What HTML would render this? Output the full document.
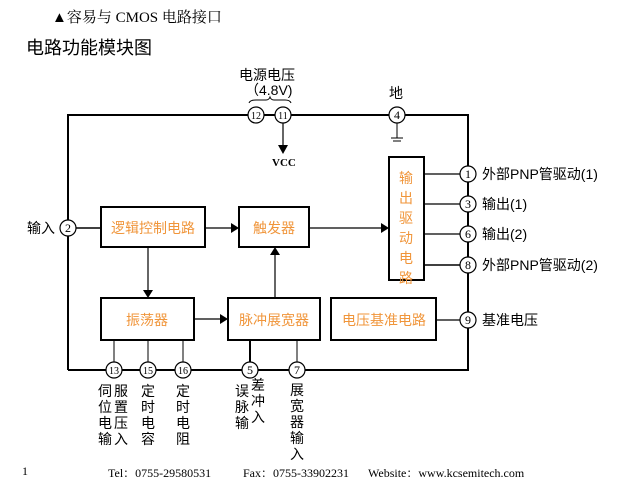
<!DOCTYPE html>
<html><head><meta charset="utf-8"><style>
body{margin:0;background:#fff;}
svg{display:block;font-family:"Liberation Serif","Noto Serif CJK SC",serif;}
.s{font-family:"Liberation Sans","Noto Sans CJK SC",sans-serif;}
</style></head><body>
<svg width="629" height="500" viewBox="0 0 629 500" xmlns="http://www.w3.org/2000/svg">
<text x="52" y="22" font-size="15" fill="#000">▲容易与 CMOS 电路接口</text>
<text x="26" y="54" font-size="18" class="s" fill="#000">电路功能模块图</text>
<g stroke="#000" fill="none">
<path d="M68 370 V115 H248 M264 115 H275 M291 115 H389 M405 115 H468 V370 H305 M289 370 H258 M242 370 H191 M175 370 H156 M140 370 H122 M106 370 H68" stroke-width="2"/>
<line x1="68" y1="228" x2="101" y2="228" stroke-width="1.5"/>
<line x1="283" y1="123" x2="283" y2="146" stroke-width="1.2"/>
<line x1="397" y1="123" x2="397" y2="138" stroke-width="1"/>
<line x1="391" y1="138" x2="403" y2="138" stroke-width="1"/>
<line x1="393" y1="141" x2="401" y2="141" stroke-width="1"/>
<path d="M249 103 Q250 100 256 100 H266 Q269 100 270 97 Q271 100 274 100 H285 Q290 100 291 103" stroke-width="1"/>
<rect x="101" y="207" width="104" height="40" stroke-width="2"/>
<rect x="239" y="207" width="70" height="40" stroke-width="2"/>
<rect x="389" y="157" width="35" height="123" stroke-width="2"/>
<rect x="101" y="298" width="93" height="42" stroke-width="2"/>
<rect x="228" y="298" width="92" height="42" stroke-width="2"/>
<rect x="331" y="298" width="105" height="42" stroke-width="2"/>
<line x1="205" y1="228" x2="232" y2="228" stroke-width="1.2"/>
<line x1="309" y1="228" x2="382" y2="228" stroke-width="1.2"/>
<line x1="148" y1="247" x2="148" y2="291" stroke-width="1.2"/>
<line x1="194" y1="319" x2="221" y2="319" stroke-width="1.2"/>
<line x1="275" y1="298" x2="275" y2="254" stroke-width="1.2"/>
<line x1="424" y1="174" x2="460" y2="174" stroke-width="1.2"/>
<line x1="424" y1="204" x2="460" y2="204" stroke-width="1.2"/>
<line x1="424" y1="234" x2="460" y2="234" stroke-width="1.2"/>
<line x1="424" y1="265" x2="460" y2="265" stroke-width="1.5"/>
<line x1="436" y1="320" x2="460" y2="320" stroke-width="1.2"/>
<line x1="114" y1="340" x2="114" y2="362" stroke-width="1"/>
<line x1="148" y1="340" x2="148" y2="362" stroke-width="1"/>
<line x1="183" y1="340" x2="183" y2="362" stroke-width="1"/>
<line x1="250" y1="340" x2="250" y2="362" stroke-width="2"/>
<line x1="297" y1="340" x2="297" y2="362" stroke-width="1"/>
<g stroke-width="1.2" fill="#fff">
<circle cx="68" cy="228" r="8"/>
<circle cx="256" cy="115" r="8"/>
<circle cx="283" cy="115" r="8"/>
<circle cx="397" cy="115" r="8"/>
<circle cx="468" cy="174" r="8"/>
<circle cx="468" cy="204" r="8"/>
<circle cx="468" cy="234" r="8"/>
<circle cx="468" cy="265" r="8"/>
<circle cx="468" cy="320" r="8"/>
<circle cx="114" cy="370" r="8"/>
<circle cx="148" cy="370" r="8"/>
<circle cx="183" cy="370" r="8"/>
<circle cx="250" cy="370" r="8"/>
<circle cx="297" cy="370" r="8"/>
</g>
</g>
<g fill="#000">
<path d="M278 145 L288 145 L283 154 Z"/>
<path d="M231 223 L239 228 L231 233 Z"/>
<path d="M381 223 L389 228 L381 233 Z"/>
<path d="M143 290 L153 290 L148 298 Z"/>
<path d="M220 314 L228 319 L220 324 Z"/>
<path d="M270 255 L280 255 L275 247 Z"/>
</g>
<g font-size="12" text-anchor="middle" fill="#000" font-family="Liberation Serif,serif">
<text x="68" y="232">2</text>
<text x="256" y="119" font-size="10">12</text>
<text x="283" y="119" font-size="10">11</text>
<text x="397" y="119">4</text>
<text x="468" y="178">1</text>
<text x="468" y="208">3</text>
<text x="468" y="238">6</text>
<text x="468" y="269">8</text>
<text x="468" y="324">9</text>
<text x="114" y="374" font-size="10">13</text>
<text x="148" y="374" font-size="10">15</text>
<text x="183" y="374" font-size="10">16</text>
<text x="250" y="374">5</text>
<text x="297" y="374">7</text>
</g>
<g font-size="14" fill="#000" class="s">
<text x="239" y="80">电源电压</text>
<text x="245" y="95">（4.8V)</text>
<text x="389" y="98">地</text>
<text x="272" y="166" font-size="11" font-weight="bold" font-family="Liberation Serif,serif">VCC</text>
<text x="27" y="233">输入</text>
<text x="482" y="179">外部PNP管驱动(1)</text>
<text x="482" y="209">输出(1)</text>
<text x="482" y="239">输出(2)</text>
<text x="482" y="270">外部PNP管驱动(2)</text>
<text x="482" y="325">基准电压</text>
</g>
<g font-size="14" fill="#f0953a" class="s" text-anchor="middle">
<text x="153" y="233">逻辑控制电路</text>
<text x="274" y="233">触发器</text>
<text x="147" y="325">振荡器</text>
<text x="274" y="325">脉冲展宽器</text>
<text x="384" y="325">电压基准电路</text>
<text x="406" y="183">输</text>
<text x="406" y="203">出</text>
<text x="406" y="223">驱</text>
<text x="406" y="243">动</text>
<text x="406" y="263">电</text>
<text x="406" y="283">路</text>
</g>
<g font-size="14" fill="#000" class="s" text-anchor="middle">
<text x="105" y="396">伺</text><text x="105" y="412">位</text><text x="105" y="428">电</text><text x="105" y="444">输</text>
<text x="121" y="396">服</text><text x="121" y="412">置</text><text x="121" y="428">压</text><text x="121" y="444">入</text>
<text x="148" y="396">定</text><text x="148" y="412">时</text><text x="148" y="428">电</text><text x="148" y="444">容</text>
<text x="183" y="396">定</text><text x="183" y="412">时</text><text x="183" y="428">电</text><text x="183" y="444">阻</text>
<text x="242" y="396">误</text><text x="242" y="412">脉</text><text x="242" y="428">输</text>
<text x="258" y="390">差</text><text x="258" y="406">冲</text><text x="258" y="422">入</text>
<text x="297" y="395">展</text><text x="297" y="411">宽</text><text x="297" y="427">器</text><text x="297" y="443">输</text><text x="297" y="459">入</text>
</g>
<text x="22" y="475" font-size="12" fill="#000">1</text>
<text x="108" y="477" font-size="12" fill="#000">Tel：0755-29580531</text>
<text x="243" y="477" font-size="12" fill="#000">Fax：0755-33902231</text>
<text x="368" y="477" font-size="12" fill="#000">Website：www.kcsemitech.com</text>
</svg>
</body></html>
